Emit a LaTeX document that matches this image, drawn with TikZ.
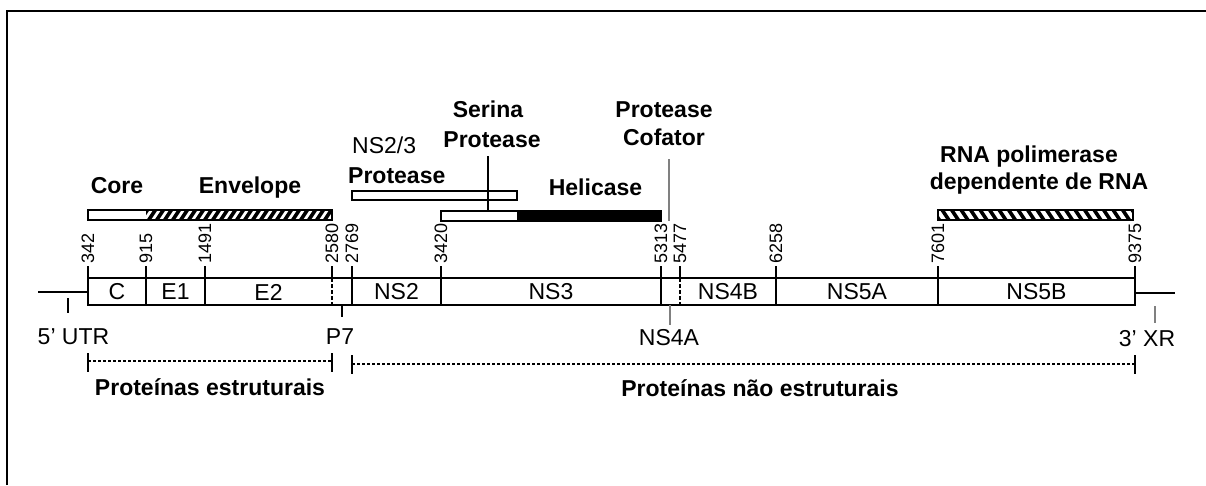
\documentclass[tikz,border=0pt]{standalone}
\usepackage{fontspec}
\setmainfont{Liberation Sans}
\tikzset{
  lbl/.style={font=\fontsize{23}{26}\selectfont, inner sep=0pt},
  blbl/.style={font=\fontsize{23}{26}\selectfont\bfseries, inner sep=0pt},
  num/.style={font=\fontsize{18}{20}\selectfont, rotate=90, anchor=west, inner sep=0pt},
  seg/.style={line width=1.3pt},
  pbar/.style={line width=1.5pt},
  thinline/.style={line width=1.2pt},
  bracket/.style={line width=1.2pt, dash pattern=on 3pt off 2pt},
}
\begin{document}
\begin{tikzpicture}[x=1pt,y=-1pt]
\useasboundingbox (0,0) rectangle (1206,485);
% frame (top and left only)
\draw[line width=2pt] (7,485) -- (7,11) -- (1206,11);

% ---------- genome bar ----------
\coordinate (L) at (88,278);
\coordinate (R) at (1135,305);
\draw[seg] (L) rectangle (R);
\draw[seg] (38,292) -- (88,292);
\draw[seg] (1135,293) -- (1175,293);
\foreach \x in {146,205,352,441,661,776,938}
  \draw[seg] (\x,278) -- (\x,305);
\foreach \x in {332,680}
  \draw[seg, dash pattern=on 4pt off 2pt] (\x,278) -- (\x,305);
% ticks and positions
\foreach \x/\n in {88/342,146/915,205/1491,332/2580,352/2769,441/3420,661/5313,680/5477,776/6258,938/7601,1135/9375}{
  \draw[seg] (\x,266) -- (\x,278);
  \node[num] (p\n) at (\x,264) {\n};
}
% segment labels
\node[lbl] (sC) at (117,292) {C};
\node[lbl] (sE1) at (175.5,292) {E1};
\node[lbl] (sE2) at (268.5,292) {E2};
\node[lbl] (sNS2) at (396.5,292) {NS2};
\node[lbl] (sNS3) at (551,292) {NS3};
\node[lbl] (sNS4B) at (728,292) {NS4B};
\node[lbl] (sNS5A) at (857,292) {NS5A};
\node[lbl] (sNS5B) at (1036.5,292) {NS5B};

% labels below bar
\node[lbl, anchor=base] (utr) at (73.5,344) {5' UTR};
\draw[thinline] (68,298) -- (68,313);
\node[lbl, anchor=base] (p7) at (340,344) {P7};
\draw[thinline] (342,305) -- (342,317);
\node[lbl, anchor=base] (ns4a) at (669,345) {NS4A};
\draw[thinline, gray] (670,305) -- (670,325);
\node[lbl, anchor=base] (xr) at (1147,346) {3' XR};
\draw[thinline, gray] (1155,306) -- (1155,323);

% ---------- brackets ----------
\draw[bracket] (88,361) -- (332,361);
\draw[thinline] (88,353) -- (88,372);
\draw[thinline] (332,353) -- (332,372);
\node[blbl, anchor=base] (pe) at (210,395) {Proteínas estruturais};
\draw[bracket] (352,364) -- (1135,364);
\draw[thinline] (352,355) -- (352,374);
\draw[thinline] (1135,355) -- (1135,374);
\node[blbl, anchor=base] (pne) at (760,396) {Proteínas não estruturais};

% ---------- functional bars ----------
% Core / Envelope
\begin{scope}
  \clip (146,210) rectangle (332,220);
  \foreach \i in {0,...,24}
    \draw[line width=3.6pt] ({140+8*\i},221) -- ({148+8*\i},209);
\end{scope}
\draw[pbar] (88,210) rectangle (332,220);
\node[blbl, anchor=base] (core) at (117,193) {Core};
\node[blbl, anchor=base] (env) at (250,193) {Envelope};

% NS2/3 protease
\draw[pbar] (352,191) rectangle (517,200);
\node[lbl, anchor=base west] (ns23) at (352,153) {NS2/3};
\node[blbl, anchor=base west] (prot1) at (348,183) {Protease};

% Serine protease / helicase
\fill (517,211) rectangle (661,221);
\draw[pbar] (441,211) rectangle (661,221);
\node[blbl, anchor=base] (serina) at (488,117) {Serina};
\node[blbl, anchor=base] (prot2) at (492,147) {Protease};
\draw[thinline] (488,156) -- (488,211);
\node[blbl, anchor=base] (heli) at (595.5,195) {Helicase};

% Protease cofator
\node[blbl, anchor=base] (prot3) at (664,117) {Protease};
\node[blbl, anchor=base] (cof) at (664,145) {Cofator};
\draw[thinline, gray] (669,159) -- (669,221);

% RNA polymerase
\begin{scope}
  \clip (938,210) rectangle (1133,220);
  \foreach \i in {0,...,21}
    \draw[line width=3.6pt] ({932+9.5*\i},209) -- ({940+9.5*\i},221);
\end{scope}
\draw[pbar] (938,210) rectangle (1133,220);
\node[blbl, anchor=base] (rna1) at (1029,162) {RNA polimerase};
\node[blbl, anchor=base] (rna2) at (1039,189) {dependente de RNA};
\end{tikzpicture}
\end{document}
